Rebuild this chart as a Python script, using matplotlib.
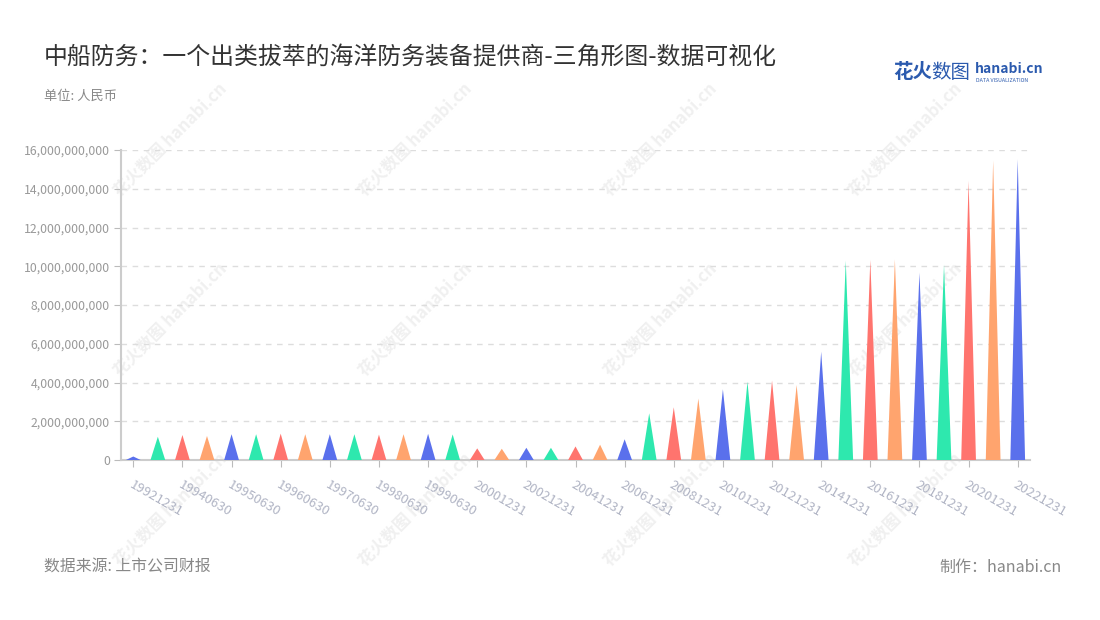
import matplotlib
matplotlib.use("Agg")
import matplotlib.pyplot as plt
from matplotlib.ticker import FuncFormatter, FixedLocator

plt.rcParams['font.family'] = ['Noto Sans CJK SC', 'DejaVu Sans']

dates = ["19921231", "19931231", "19940630", "19941231", "19950630", "19951231",
         "19960630", "19961231", "19970630", "19971231", "19980630", "19981231",
         "19990630", "19991231", "20001231", "20011231", "20021231", "20031231",
         "20041231", "20051231", "20061231", "20071231", "20081231", "20091231",
         "20101231", "20111231", "20121231", "20131231", "20141231", "20151231",
         "20161231", "20171231", "20181231", "20191231", "20201231", "20211231",
         "20221231"]
values = [0.18e9, 1.2e9, 1.29e9, 1.24e9, 1.33e9, 1.33e9,
          1.36e9, 1.33e9, 1.33e9, 1.33e9, 1.31e9, 1.33e9,
          1.35e9, 1.32e9, 0.6e9, 0.58e9, 0.63e9, 0.63e9,
          0.7e9, 0.79e9, 1.07e9, 2.41e9, 2.72e9, 3.17e9,
          3.65e9, 4.04e9, 4.10e9, 3.87e9, 5.59e9, 10.29e9,
          10.33e9, 10.36e9, 9.67e9, 10.07e9, 14.41e9, 15.46e9,
          15.52e9]
palette = ["#5A70EC", "#2EE8AE", "#FF746E", "#FFA46E"]

fig = plt.figure(figsize=(11, 6.2), dpi=100)
fig.patch.set_facecolor("white")

# watermarks (behind the chart)
for wx in [170, 415, 660, 905]:
    for wy in [140, 320, 510]:
        fig.text(wx / 1100, 1 - wy / 620, "花火数图 hanabi.cn", rotation=45,
                 fontsize=12, color="#f0f0f0", ha="center", va="center",
                 fontweight="bold", zorder=-5)

ax = fig.add_axes([121 / 1100, 1 - 460 / 620, (1030 - 121) / 1100, 310 / 620])
ax.set_facecolor("none")
ax.set_zorder(1)

hw = 0.3
for i, v in enumerate(values):
    c = palette[i % len(palette)]
    ax.fill([i - hw, i, i + hw], [0, v, 0], color=c, lw=0, zorder=3)

ax.set_xlim(-0.5, len(values) - 0.5)
ax.set_ylim(0, 16e9)
ax.yaxis.set_major_locator(FixedLocator([i * 2e9 for i in range(9)]))
ax.yaxis.set_major_formatter(FuncFormatter(lambda v, p: f"{int(v):,}"))
ax.grid(axis="y", color="#dddddd", linestyle=(0, (4, 4)), linewidth=1, zorder=1)
ax.set_axisbelow(True)

ticks = list(range(0, len(dates), 2))
ax.set_xticks(ticks)
ax.set_xticklabels([dates[i] for i in ticks], rotation=-30, ha="left", va="top",
                   rotation_mode="anchor", color="#b0b4c4", fontsize=9.5)
ax.tick_params(axis="x", length=5, color="#bbbbbb", pad=8)
ax.tick_params(axis="y", length=5, color="#bbbbbb", labelcolor="#999999",
               labelsize=8.8, pad=3)

for s in ["top", "right"]:
    ax.spines[s].set_visible(False)
for s in ["left", "bottom"]:
    ax.spines[s].set_color("#cccccc")
    ax.spines[s].set_linewidth(1.5)

fig.text(44 / 1100, 1 - 57 / 620, "中船防务：一个出类拔萃的海洋防务装备提供商-三角形图-数据可视化",
         fontsize=17.2, color="#333333", ha="left", va="center")
fig.text(44 / 1100, 1 - 96 / 620, "单位: 人民币", fontsize=9.5, color="#888888",
         ha="left", va="center")
fig.text(44 / 1100, 1 - 567 / 620, "数据来源: 上市公司财报", fontsize=11.4, color="#888888",
         ha="left", va="center")
fig.text(1062 / 1100, 1 - 567 / 620, "制作：hanabi.cn", fontsize=11.5, color="#888888",
         ha="right", va="center")

# logo
fig.text(893 / 1100, 1 - 72 / 620, "花火", fontsize=14, color="#2B5AAE",
         fontweight="bold", ha="left", va="center")
fig.text(931 / 1100, 1 - 72 / 620, "数图", fontsize=14, color="#2B5AAE",
         ha="left", va="center")
fig.text(975 / 1100, 1 - 69 / 620, "hanabi.cn", fontsize=10, color="#2B5AAE",
         fontweight="bold", ha="left", va="center")
fig.text(976 / 1100, 1 - 80 / 620, "DATA VISUALIZATION", fontsize=3.8, color="#2B5AAE",
         ha="left", va="center")

fig.savefig("out.png", dpi=100, facecolor="white")
